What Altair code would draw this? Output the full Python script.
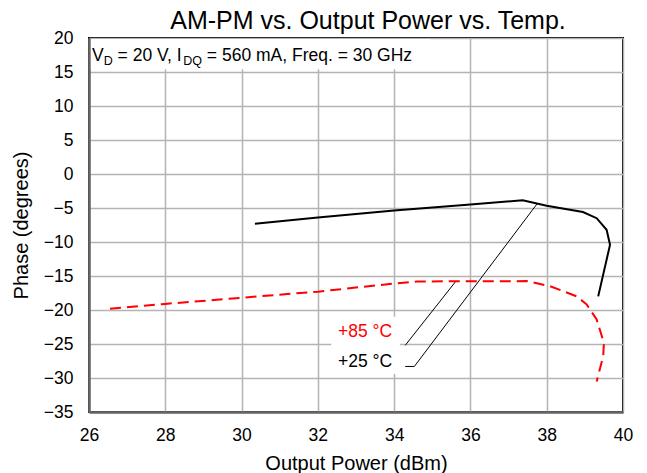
import altair as alt
import pandas as pd

FONT = "Liberation Sans"

# ---- axis ticks
x_ticks = [26, 28, 30, 32, 34, 36, 38, 40]
y_ticks = [-35, -30, -25, -20, -15, -10, -5, 0, 5, 10, 15, 20]

# ---- +25 °C curve (solid black)
t25_x = [30.35, 32.0, 34.0, 36.0, 37.37, 38.0, 38.95, 39.31, 39.57, 39.66, 39.35]
t25_y = [-7.3, -6.4, -5.35, -4.5, -3.85, -4.66, -5.6, -6.5, -8.2, -10.4, -18.0]

# ---- +85 °C curve (dashed red)
t85_x = [26.55, 28.0, 30.0, 32.0, 34.0, 34.6, 37.48, 38.09, 38.79, 39.05, 39.31, 39.5, 39.48, 39.31]
t85_y = [-19.8, -19.1, -18.2, -17.3, -16.1, -15.8, -15.75, -16.5, -18.0, -19.2, -21.4, -24.85, -26.8, -30.5]

# ---- leader lines
lead85_x = [34.29, 35.6]
lead85_y = [-25.2, -15.9]
lead25_x = [34.29, 34.53, 37.75]
lead25_y = [-28.3, -28.3, -4.37]

# ---- curve labels
label_text = ["+85 °C", "+25 °C"]
label_x = [33.95, 33.95]
label_y = [-23.3, -27.6]
label_color = ["#ff0000", "#000000"]

# ---- white backgrounds behind annotations
box_x = [26.05, 32.35]
box_x2 = [34.94, 34.15]
box_y = [19.85, -21.0]
box_y2 = [15.4, -29.4]

# ---- condition text pieces
info_pieces = ["V", "D", " = 20 V, I", "DQ", " = 560 mA, Freq. = 30 GHz"]
info_sub = [False, True, False, True, False]
info_x = 26
info_y = 16.56

xs = alt.Scale(domain=[26, 40], nice=False, zero=False)
ys = alt.Scale(domain=[-35, 20], nice=False, zero=False)

def X(field="x"):
    return alt.X(field, type="quantitative", scale=xs,
                 axis=alt.Axis(values=x_ticks, title="Output Power (dBm)"))

def Y(field="y"):
    return alt.Y(field, type="quantitative", scale=ys,
                 axis=alt.Axis(values=y_ticks, title="Phase (degrees)"))

# Arial / Liberation Sans advance widths (per 1000 em)
W = {"V": 667, "D": 722, "Q": 778, "I": 278, " ": 278, "=": 584, "0": 556, "2": 556,
     "3": 556, "5": 556, "6": 556, ",": 278, "m": 833, "A": 667, "F": 611, "r": 333,
     "e": 556, "q": 556, ".": 278, "G": 778, "H": 722, "z": 500}

def tw(s, fs):
    return sum(W[c] for c in s) * fs / 1000.0

FS_MAIN = 17.5
FS_SUB = 12.5

boxes = alt.Chart(pd.DataFrame({"x": box_x, "x2": box_x2, "y": box_y, "y2": box_y2})).mark_rect(
    fill="white"
).encode(x=X(), x2="x2", y=Y(), y2="y2")

c25 = alt.Chart(pd.DataFrame({"x": t25_x, "y": t25_y, "i": range(len(t25_x))})).mark_line(
    color="black", strokeWidth=2
).encode(x=X(), y=Y(), order="i:Q")

c85 = alt.Chart(pd.DataFrame({"x": t85_x, "y": t85_y, "i": range(len(t85_x))})).mark_line(
    color="#ff0000", strokeWidth=2, strokeDash=[11, 6]
).encode(x=X(), y=Y(), order="i:Q")

l85 = alt.Chart(pd.DataFrame({"x": lead85_x, "y": lead85_y, "i": range(len(lead85_x))})).mark_line(
    color="black", strokeWidth=1
).encode(x=X(), y=Y(), order="i:Q")

l25 = alt.Chart(pd.DataFrame({"x": lead25_x, "y": lead25_y, "i": range(len(lead25_x))})).mark_line(
    color="black", strokeWidth=1
).encode(x=X(), y=Y(), order="i:Q")

labels = alt.Chart(pd.DataFrame({"x": label_x, "y": label_y, "t": label_text, "c": label_color})).mark_text(
    align="right", baseline="middle", font=FONT, fontSize=17.5
).encode(x=X(), y=Y(), text="t:N", color=alt.Color("c:N", scale=None))

layers = [boxes, c25, c85, l85, l25, labels]

off = 3.0
for piece, sub in zip(info_pieces, info_sub):
    fs = FS_SUB if sub else FS_MAIN
    shown = piece.lstrip(" ")
    off += tw(piece[: len(piece) - len(shown)], fs)
    layers.append(
        alt.Chart(pd.DataFrame({"x": [info_x], "y": [info_y], "t": [shown]})).mark_text(
            align="left", baseline="alphabetic", font=FONT, fontSize=fs, color="black",
            dx=off, dy=3.5 if sub else 0
        ).encode(x=X(), y=Y(), text="t:N")
    )
    off += tw(shown, fs)

chart = alt.layer(*layers).properties(
    width=534, height=374,
    autosize=alt.AutoSizeParams(type="none"),
    padding={"left": 81, "top": 30, "right": 16, "bottom": 66},
    title=alt.TitleParams("AM-PM vs. Output Power vs. Temp.", font=FONT, fontSize=25,
                          fontWeight="normal", color="black", anchor="middle", dx=12, offset=-5)
).configure_view(
    stroke="black", strokeWidth=2
).configure_axis(
    grid=True, gridColor="#b4b4b4", gridWidth=1.5, ticks=False,
    domainColor="#666666", domainWidth=2.5,
    labelFont=FONT, labelFontSize=17.5, labelColor="black", labelFlush=False,
    labelOverlap=False,
    titleFont=FONT, titleFontSize=20, titleFontWeight="normal", titleColor="black"
).configure_axisX(
    labelPadding=14, titlePadding=10
).configure_axisY(
    labelPadding=16, titlePadding=12
)

chart.save("out.html", embed_options={"renderer": "svg", "actions": False})
